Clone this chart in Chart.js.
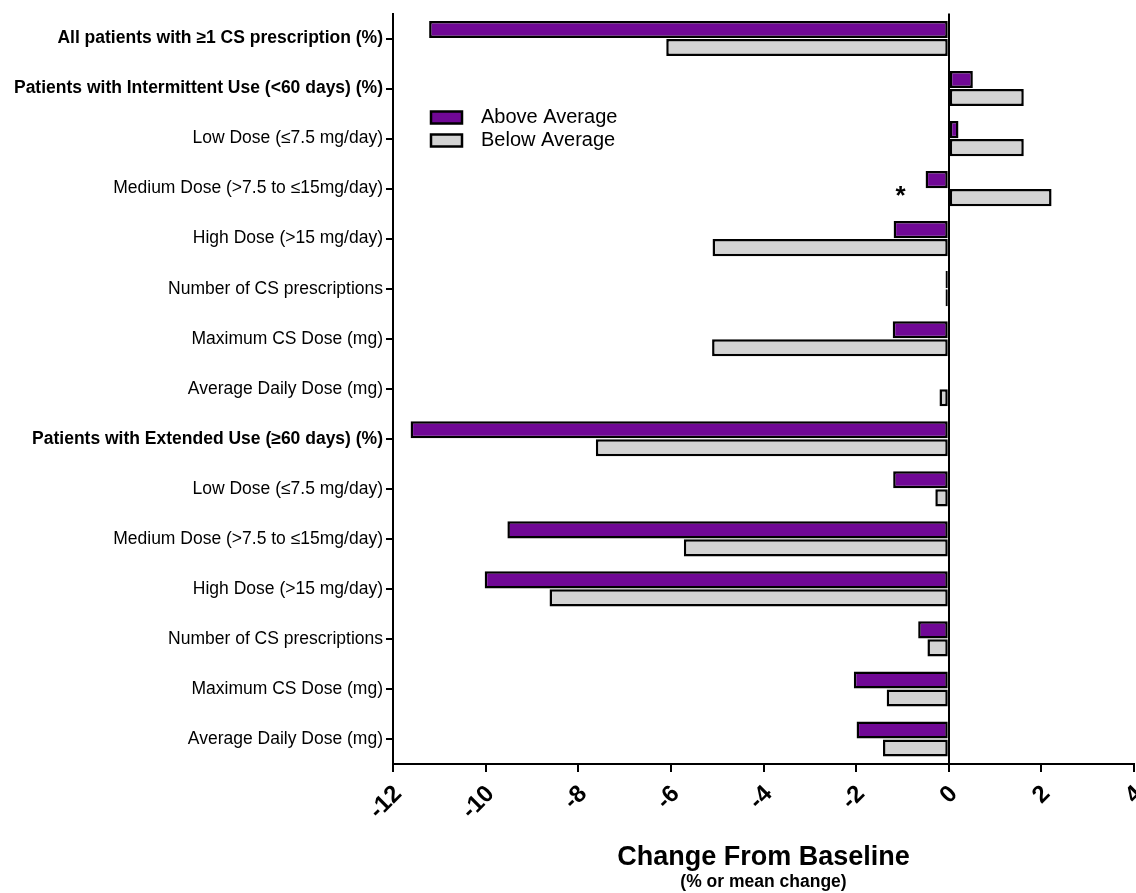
<!DOCTYPE html>
<html>
<head>
<meta charset="utf-8">
<script src="https://cdn.jsdelivr.net/npm/chart.js@4.4.1/dist/chart.umd.min.js"></script>
<style>
  html, body { margin: 0; padding: 0; background: #fff; }
  #wrap { width: 1136px; height: 893px; }
</style>
</head>
<body>
<div id="wrap"><canvas id="csChart" width="1136" height="893"></canvas></div>
<script>
// rows, top to bottom
var categories = [
  "All patients with \u22651 CS prescription (%)",
  "Patients with Intermittent Use (<60 days) (%)",
  "Low Dose (\u22647.5 mg/day)",
  "Medium Dose (>7.5 to \u226415mg/day)",
  "High Dose (>15 mg/day)",
  "Number of CS prescriptions",
  "Maximum CS Dose (mg)",
  "Average Daily Dose (mg)",
  "Patients with Extended Use (\u226560 days) (%)",
  "Low Dose (\u22647.5 mg/day)",
  "Medium Dose (>7.5 to \u226415mg/day)",
  "High Dose (>15 mg/day)",
  "Number of CS prescriptions",
  "Maximum CS Dose (mg)",
  "Average Daily Dose (mg)"
];
var boldRows = [0, 1, 8];

var aboveAverage = [-11.22, 0.52, 0.21, -0.50, -1.19, -0.07, -1.21, 0, -11.62, -1.20, -9.53, -10.02, -0.66, -2.05, -1.99];
var belowAverage = [-6.10, 1.62, 1.62, 2.22, -5.10, -0.07, -5.11, -0.20, -7.62, -0.29, -5.72, -8.62, -0.46, -1.34, -1.42];

var seriesNames = ["Above Average", "Below Average"];
var seriesColors = ["#700895", "#d3d3d3"];

var xTickValues = [-12, -10, -8, -6, -4, -2, 0, 2, 4];

// significance marks (row index, x value)
var starMarks = [{ row: 3, value: -1.04, text: "*" }];

var fontFamily = "'Liberation Sans', Arial, sans-serif";

// legend drawn inside the plot, top left
var boxLegend = {
  id: "boxLegend",
  afterDraw: function (chart) {
    var c = chart.ctx, a = chart.chartArea;
    chart.data.datasets.forEach(function (ds, i) {
      var x = a.left + 38, y = a.top + 98 + i * 23;
      c.save();
      c.fillStyle = ds.backgroundColor;
      c.fillRect(x, y, 31, 12);
      c.lineWidth = 2.5;
      c.strokeStyle = "#000";
      c.strokeRect(x, y, 31, 12);
      c.fillStyle = "#000";
      c.font = "20px " + fontFamily;
      c.textBaseline = "middle";
      c.fillText(ds.label, x + 50, y + 6);
      c.restore();
    });
  }
};

var starLabels = {
  id: "starLabels",
  afterDatasetsDraw: function (chart) {
    var xs = chart.scales.x, ys = chart.scales.y, c = chart.ctx;
    starMarks.forEach(function (m) {
      c.save();
      c.font = "bold 26px " + fontFamily;
      c.textAlign = "center";
      c.textBaseline = "middle";
      c.fillStyle = "#000";
      c.fillText(m.text, xs.getPixelForValue(m.value), ys.getPixelForValue(m.row) + 8);
      c.restore();
    });
  }
};

new Chart(document.getElementById("csChart"), {
  type: "bar",
  data: {
    labels: categories,
    datasets: [
      {
        label: seriesNames[0],
        data: aboveAverage,
        backgroundColor: seriesColors[0],
        borderColor: "#000",
        borderWidth: 2.5,
        borderSkipped: false
      },
      {
        label: seriesNames[1],
        data: belowAverage,
        backgroundColor: seriesColors[1],
        borderColor: "#000",
        borderWidth: 2.5,
        borderSkipped: false
      }
    ]
  },
  plugins: [boxLegend, starLabels],
  options: {
    responsive: false,
    animation: false,
    indexAxis: "y",
    categoryPercentage: 0.72,
    barPercentage: 0.95,
    layout: { padding: { top: 13, right: 2, left: 0, bottom: 0 } },
    plugins: {
      legend: { display: false },
      tooltip: { enabled: false },
      subtitle: {
        display: true,
        text: "(% or mean change)",
        position: "bottom",
        fullSize: false,
        color: "#000",
        font: { family: fontFamily, size: 17.5, weight: "bold" },
        padding: { top: 0, bottom: 0 }
      }
    },
    scales: {
      x: {
        type: "linear",
        min: -12,
        max: 4,
        afterBuildTicks: function (s) {
          s.ticks = xTickValues.map(function (v) { return { value: v }; });
        },
        afterFit: function (s) {
          s.height = 108;
          s.paddingRight = 0;
        },
        ticks: {
          color: "#000",
          font: { family: fontFamily, size: 24, weight: "bold" },
          minRotation: 45,
          maxRotation: 45,
          padding: 8,
          labelOffset: 5
        },
        grid: {
          drawOnChartArea: true,
          color: function (ctx) {
            return ctx.tick && ctx.tick.value === 0 ? "#000" : "rgba(0,0,0,0)";
          },
          lineWidth: 2,
          tickColor: "#000",
          tickLength: 8
        },
        border: { color: "#000", width: 2 },
        title: {
          display: true,
          text: "Change From Baseline",
          color: "#000",
          font: { family: fontFamily, size: 27, weight: "bold", lineHeight: 1.05 },
          padding: { top: 0, bottom: 0 }
        }
      },
      y: {
        type: "category",
        offset: true,
        afterFit: function (s) { s.width = 393; },
        ticks: {
          color: "#000",
          autoSkip: false,
          padding: 3,
          font: function (ctx) {
            return {
              family: fontFamily,
              size: 17.5,
              weight: boldRows.indexOf(ctx.index) >= 0 ? "bold" : "normal"
            };
          }
        },
        grid: {
          offset: false,
          drawOnChartArea: false,
          tickColor: "#000",
          tickLength: 7,
          lineWidth: 2
        },
        border: { color: "#000", width: 2 }
      }
    }
  }
});
</script>
</body>
</html>
